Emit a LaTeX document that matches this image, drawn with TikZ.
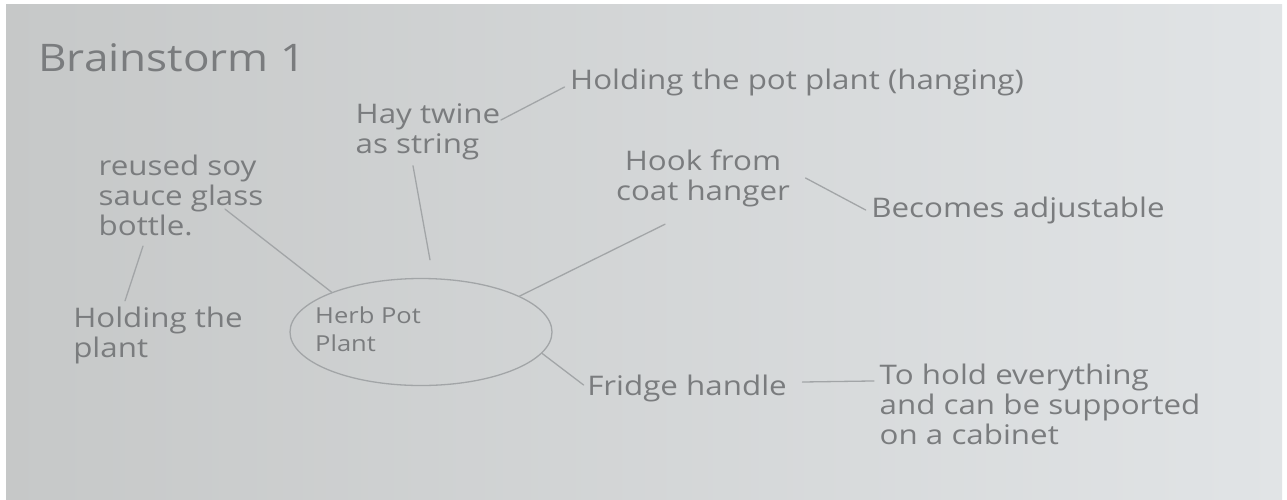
\documentclass[tikz,border=0pt]{standalone}
\usepackage{fontspec}
\setmainfont[FakeStretch=1.16]{Open Sans}
\usetikzlibrary{shapes.geometric}
\definecolor{paperL}{HTML}{C6C8C8}
\definecolor{paperR}{HTML}{E1E4E6}
\definecolor{pencil}{HTML}{7A7C7E}
\definecolor{pencilL}{HTML}{A2A5A7}
\begin{document}
\begin{tikzpicture}[x=1pt,y=-1pt,line width=1.3pt,line cap=round,line join=round,
  font=\fontsize{27}{30}\selectfont,
  note/.style={inner sep=0pt,text=pencil,align=left},
  link/.style={draw=pencilL}]
  % photo of the sheet, white strip right and left
  \useasboundingbox (0,0) rectangle (1287,499);
  \fill[white] (0,0) rectangle (1287,499);
  \shade[left color=paperL,right color=paperR] (6,4) rectangle (1282,499);
  % centre
  \node[ellipse,draw=pencilL,minimum width=262pt,minimum height=107pt,inner sep=0pt] (herb) at (421,332) {};
  \node[note,font=\fontsize{22}{28}\selectfont] (herbtext) at (368,329) {Herb Pot\\Plant};
  % ideas round it
  \node[note,font=\fontsize{38}{40}\selectfont] (title) at (172,58) {Brainstorm 1};
  \node[note] (soy) at (181,195) {reused soy\\sauce glass\\bottle.};
  \node[note] (holdplant) at (158,335) {Holding the\\plant};
  \node[note] (hay) at (428,132) {Hay twine\\as string};
  \node[note] (hanging) at (797,82) {Holding the pot plant (hanging)};
  \node[note,align=center] (hook) at (703,178) {Hook from\\coat hanger};
  \node[note] (adjust) at (1018,210) {Becomes adjustable};
  \node[note] (fridge) at (687,388) {Fridge handle};
  \node[note] (hold) at (1040,404) {To hold everything\\and can be supported\\on a cabinet};
  % connectors
  \draw[link] ([xshift=44pt,yshift=27pt]soy.south) -- (herb.156);
  \draw[link] ([xshift=-38pt,yshift=-10pt]soy.south) -- ([xshift=-33pt,yshift=5pt]holdplant.north);
  \draw[link] ([xshift=-15pt,yshift=-5pt]hay.south) -- ([xshift=9pt,yshift=18pt]herb.north);
  \draw[link] ([yshift=12pt]hay.east) -- ([xshift=-5pt,yshift=-5pt]hanging.west);
  \draw[link] (herb.20) -- ([xshift=-38pt,yshift=-17pt]hook.south);
  \draw[link] ([xshift=15pt]hook.east) -- ([xshift=-5pt]adjust.west);
  \draw[link] (herb.-10) -- ([xshift=-3pt,yshift=3pt]fridge.west);
  \draw[link] ([xshift=15pt,yshift=6pt]fridge.east) -- ([xshift=-5pt,yshift=-18pt]hold.north west);
\end{tikzpicture}
\end{document}
